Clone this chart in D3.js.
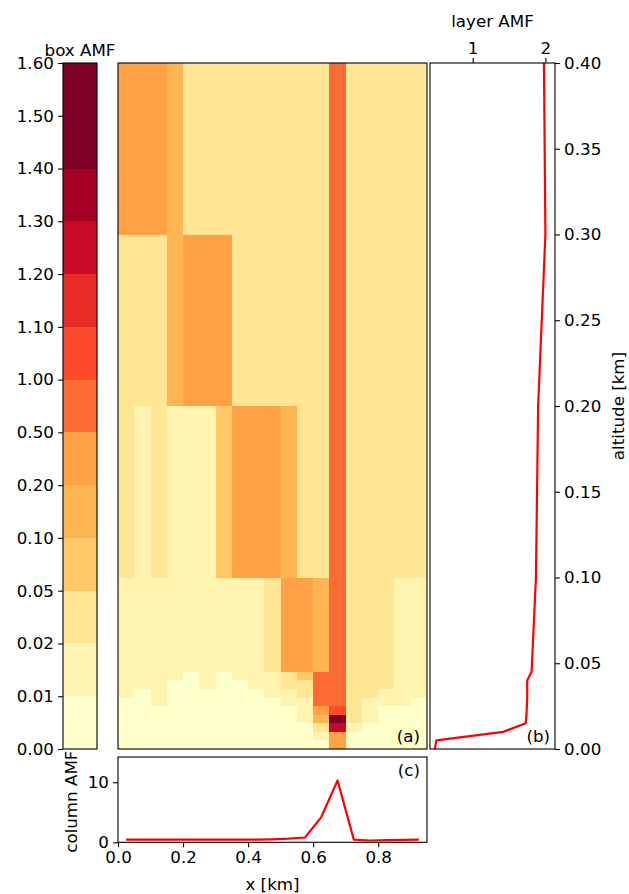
<!DOCTYPE html>
<html><head><meta charset="utf-8">
<script src="https://cdn.jsdelivr.net/npm/d3@7"></script>
<style>
body{margin:0;background:#fff}
svg{display:block}
text{font-family:"DejaVu Sans",sans-serif;fill:#000}
</style>
</head><body>
<svg id="chart" width="629" height="894"></svg>
<script>
// ---------- data ----------
const xEdges = [0,0.05,0.10,0.15,0.20,0.25,0.30,0.35,0.40,0.45,0.50,0.55,0.60,0.65,0.70,0.75,0.80,0.85,0.90,0.95];
const altEdges = [0.4,0.3,0.2,0.1,0.045,0.04,0.035,0.03,0.025,0.02,0.015,0.01,0.005,0];
// box AMF per cell, rows from top (0.3-0.4 km) to bottom (0-0.005 km)
const boxAMF = [
 [0.35,0.35,0.35,0.15,0.035,0.035,0.035,0.035,0.035,0.035,0.035,0.035,0.035,0.75,0.035,0.035,0.035,0.035,0.035],
 [0.035,0.035,0.035,0.15,0.35,0.35,0.35,0.035,0.035,0.035,0.035,0.035,0.035,0.75,0.035,0.035,0.035,0.035,0.035],
 [0.035,0.015,0.035,0.015,0.015,0.015,0.07,0.35,0.35,0.35,0.15,0.035,0.035,0.75,0.035,0.035,0.035,0.035,0.035],
 [0.015,0.015,0.015,0.015,0.015,0.015,0.015,0.015,0.015,0.035,0.35,0.35,0.15,0.75,0.035,0.035,0.035,0.015,0.015],
 [0.015,0.015,0.015,0.015,0.005,0.015,0.005,0.015,0.015,0.015,0.035,0.07,0.75,0.75,0.035,0.035,0.035,0.015,0.015],
 [0.015,0.015,0.015,0.005,0.005,0.015,0.005,0.005,0.015,0.015,0.035,0.035,0.75,0.75,0.035,0.035,0.035,0.015,0.015],
 [0.015,0.005,0.015,0.005,0.005,0.005,0.005,0.005,0.005,0.015,0.015,0.035,0.75,0.75,0.035,0.035,0.015,0.015,0.015],
 [0.005,0.005,0.015,0.005,0.005,0.005,0.005,0.005,0.005,0.005,0.015,0.015,0.75,0.75,0.035,0.015,0.015,0.015,0.005],
 [0.005,0.005,0.005,0.005,0.005,0.005,0.005,0.005,0.005,0.005,0.005,0.015,0.35,1.05,0.035,0.015,0.005,0.005,0.005],
 [0.005,0.005,0.005,0.005,0.005,0.005,0.005,0.005,0.005,0.005,0.005,0.015,0.15,1.5,0.035,0.015,0.005,0.005,0.005],
 [0.005,0.005,0.005,0.005,0.005,0.005,0.005,0.005,0.005,0.005,0.005,0.005,0.035,1.25,0.015,0.005,0.005,0.005,0.005],
 [0.005,0.005,0.005,0.005,0.005,0.005,0.005,0.005,0.005,0.005,0.005,0.005,0.015,0.35,0.005,0.005,0.005,0.005,0.005],
 [0.005,0.005,0.005,0.005,0.005,0.005,0.005,0.005,0.005,0.005,0.005,0.005,0.005,0.35,0.005,0.005,0.005,0.005,0.005]
];
const cbTickValues = [0,0.01,0.02,0.05,0.1,0.2,0.5,1.0,1.1,1.2,1.3,1.4,1.5,1.6];
const cbTickLabels = ["0.00","0.01","0.02","0.05","0.10","0.20","0.50","1.00","1.10","1.20","1.30","1.40","1.50","1.60"];
const cbBounds = [0,0.01,0.02,0.05,0.1,0.2,0.5,1.0,1.1,1.2,1.3,1.4,1.6];
const cbColors = ["#ffffcc","#fff3b0","#fee695","#fec966","#feb652","#fea245","#fe6a33","#fc4a2a","#e92c23","#c70a28","#a50026","#800026"];

const layerAlt = [0.4,0.3,0.2,0.1,0.045,0.04,0.035,0.03,0.025,0.02,0.015,0.01,0.005,0.0];
const layerAMF = [1.98,2.00,1.90,1.87,1.81,1.75,1.75,1.75,1.745,1.74,1.73,1.42,0.50,0.48];
const layerTicks = [1,2];

const colX = [0.025,0.075,0.125,0.175,0.225,0.275,0.325,0.375,0.425,0.475,0.525,0.575,0.625,0.675,0.725,0.775,0.825,0.875,0.925];
const colAMF = [0.45,0.45,0.45,0.45,0.45,0.45,0.45,0.45,0.45,0.5,0.6,0.8,4.2,10.3,0.45,0.3,0.35,0.4,0.45];
const colYTicks = [0,10];
const colXTicks = [0.0,0.2,0.4,0.6,0.8];
const altTicks = [0,0.05,0.1,0.15,0.2,0.25,0.3,0.35,0.4];

// ---------- layout ----------
const FS = 16.7, TICK = 4.9, PAD = 4.2, LW = 1.1;
const svg = d3.select("#chart");
const yTop = 63, yBot = 749;

function frame(x0,y0,x1,y1){
  svg.append("rect").attr("x",x0).attr("y",y0).attr("width",x1-x0).attr("height",y1-y0)
    .attr("fill","none").attr("stroke","#000").attr("stroke-width",LW);
}
function styleAxis(g){
  g.selectAll("path.domain").remove();
  g.selectAll("line").attr("stroke","#000").attr("stroke-width",LW);
  g.selectAll("text").attr("font-size",FS).attr("font-family","DejaVu Sans");
}

// ---------- colorbar ----------
const cbX0 = 63, cbX1 = 97;
const cbY = d3.scaleLinear().domain(cbTickValues)
  .range(cbTickValues.map((d,i)=> yBot - i*(yBot-yTop)/(cbTickValues.length-1)));
const color = d3.scaleThreshold().domain(cbBounds.slice(1,-1)).range(cbColors);
svg.append("g").selectAll("rect").data(cbColors).join("rect")
  .attr("x",cbX0).attr("width",cbX1-cbX0)
  .attr("y",(d,i)=>cbY(cbBounds[i+1]))
  .attr("height",(d,i)=>cbY(cbBounds[i])-cbY(cbBounds[i+1]))
  .attr("fill",d=>d).attr("shape-rendering","crispEdges");
frame(cbX0,yTop,cbX1,yBot);
const cbAxis = svg.append("g").attr("transform",`translate(${cbX0},0)`)
  .call(d3.axisLeft(cbY).tickValues(cbTickValues).tickSize(TICK).tickPadding(PAD)
    .tickFormat((d,i)=>cbTickLabels[i]));
styleAxis(cbAxis);
svg.append("text").attr("x",(cbX0+cbX1)/2).attr("y",yTop-7).attr("text-anchor","middle")
  .attr("font-size",FS).text("box AMF");

// ---------- heatmap (a) ----------
const hx0 = 118, hx1 = 427;
const x = d3.scaleLinear().domain([0,0.95]).range([hx0,hx1]);
const y = d3.scaleLinear().domain([0,0.4]).range([yBot,yTop]);
const cells = [];
boxAMF.forEach((row,r)=>row.forEach((v,c)=>cells.push({r,c,v})));
svg.append("g").attr("shape-rendering","crispEdges").selectAll("rect").data(cells).join("rect")
  .attr("x",d=>Math.round(x(xEdges[d.c])))
  .attr("width",d=>Math.round(x(xEdges[d.c+1]))-Math.round(x(xEdges[d.c])))
  .attr("y",d=>Math.round(y(altEdges[d.r])))
  .attr("height",d=>Math.round(y(altEdges[d.r+1]))-Math.round(y(altEdges[d.r])))
  .attr("fill",d=>color(d.v));
frame(hx0,yTop,hx1,yBot);
svg.append("text").attr("x",hx1-7).attr("y",yBot-7).attr("text-anchor","end")
  .attr("font-size",FS).text("(a)");

// ---------- layer AMF profile (b) ----------
const bx0 = 430, bx1 = 555;
const xb = d3.scaleLinear().domain([0.413,2.132]).range([bx0,bx1]);
svg.append("path").datum(layerAlt.map((a,i)=>[layerAMF[i],a]))
  .attr("d",d3.line().x(d=>xb(d[0])).y(d=>y(d[1])))
  .attr("fill","none").attr("stroke","#ff0000").attr("stroke-width",2.2)
  .attr("stroke-linejoin","round");
frame(bx0,yTop,bx1,yBot);
const bTopAx = svg.append("g").attr("transform",`translate(0,${yTop})`)
  .call(d3.axisTop(xb).tickValues(layerTicks).tickSize(TICK).tickPadding(PAD).tickFormat(d3.format("d")));
styleAxis(bTopAx);
const bRight = svg.append("g").attr("transform",`translate(${bx1},0)`)
  .call(d3.axisRight(y).tickValues(altTicks).tickSize(TICK).tickPadding(PAD).tickFormat(d3.format(".2f")));
styleAxis(bRight);
svg.append("text").attr("x",(bx0+bx1)/2).attr("y",27).attr("text-anchor","middle")
  .attr("font-size",FS).text("layer AMF");
svg.append("text").attr("transform",`translate(624,${(yTop+yBot)/2}) rotate(-90)`)
  .attr("text-anchor","middle").attr("font-size",FS).text("altitude [km]");
svg.append("text").attr("x",bx1-5).attr("y",yBot-7).attr("text-anchor","end")
  .attr("font-size",FS).text("(b)");

// ---------- column AMF (c) ----------
const cy0 = 757, cy1 = 842.3;
const yc = d3.scaleLinear().domain([0,14.2]).range([cy1,cy0]);
svg.append("path").datum(colX.map((v,i)=>[v,colAMF[i]]))
  .attr("d",d3.line().x(d=>x(d[0])).y(d=>yc(d[1])))
  .attr("fill","none").attr("stroke","#ff0000").attr("stroke-width",2.2)
  .attr("stroke-linejoin","round");
frame(hx0,cy0,hx1,cy1);
const cLeft = svg.append("g").attr("transform",`translate(${hx0},0)`)
  .call(d3.axisLeft(yc).tickValues(colYTicks).tickSize(TICK).tickPadding(PAD).tickFormat(d3.format("d")));
styleAxis(cLeft);
const cBot = svg.append("g").attr("transform",`translate(0,${cy1})`)
  .call(d3.axisBottom(x).tickValues(colXTicks).tickSize(TICK).tickPadding(PAD).tickFormat(d3.format(".1f")));
styleAxis(cBot);
svg.append("text").attr("x",(hx0+hx1)/2).attr("y",890).attr("text-anchor","middle")
  .attr("font-size",FS).text("x [km]");
svg.append("text").attr("transform",`translate(77,${(cy0+cy1)/2+2}) rotate(-90)`)
  .attr("text-anchor","middle").attr("font-size",FS).text("column AMF");
svg.append("text").attr("x",hx1-7).attr("y",cy0+19).attr("text-anchor","end")
  .attr("font-size",FS).text("(c)");
</script>
</body></html>
